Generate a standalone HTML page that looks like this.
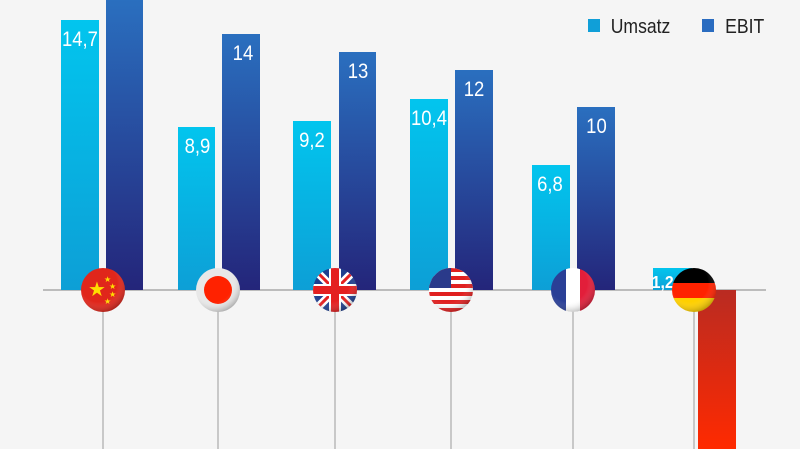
<!DOCTYPE html>
<html><head><meta charset="utf-8"><style>
html,body{margin:0;padding:0;background:#f5f5f5;}
svg{display:block}
text{font-family:"Liberation Sans",sans-serif;}
</style></head><body>
<svg width="800" height="449" viewBox="0 0 800 449" xmlns="http://www.w3.org/2000/svg">
<defs>
<linearGradient id="lb" x1="0" y1="0" x2="0" y2="1"><stop offset="0" stop-color="#02c5ee"/><stop offset="1" stop-color="#0d9fd6"/></linearGradient>
<linearGradient id="db" x1="0" y1="0" x2="0" y2="1"><stop offset="0" stop-color="#2a6fbf"/><stop offset="1" stop-color="#24257a"/></linearGradient>
<linearGradient id="rd" x1="0" y1="0" x2="0" y2="1"><stop offset="0" stop-color="#b92b22"/><stop offset="1" stop-color="#ff2a00"/></linearGradient>
<radialGradient id="sh" cx="0.4" cy="0.35" r="0.7"><stop offset="0.6" stop-color="#fff" stop-opacity="0"/><stop offset="1" stop-color="#000" stop-opacity="0.3"/></radialGradient>
<clipPath id="c1"><circle cx="0" cy="0" r="22"/></clipPath>
</defs>
<rect width="800" height="449" fill="#f5f5f5"/>
<line x1="43" y1="290" x2="766" y2="290" stroke="#aaa" stroke-width="1.5"/>
<g stroke="#c8c8c8" stroke-width="2">
<line x1="103" y1="300" x2="103" y2="449"/><line x1="218" y1="300" x2="218" y2="449"/>
<line x1="335" y1="300" x2="335" y2="449"/><line x1="451" y1="300" x2="451" y2="449"/>
<line x1="573" y1="300" x2="573" y2="449"/><line x1="694" y1="300" x2="694" y2="449"/>
</g>
<g fill="url(#lb)">
<rect x="61" y="20" width="38" height="270"/><rect x="178" y="127" width="37" height="163"/>
<rect x="293" y="121" width="38" height="169"/><rect x="410" y="99" width="38" height="191"/>
<rect x="532" y="165" width="38" height="125"/><rect x="653" y="268" width="39" height="22"/>
</g>
<g fill="url(#db)">
<rect x="106" y="0" width="37" height="290"/><rect x="222" y="34" width="38" height="256"/>
<rect x="339" y="52" width="37" height="238"/><rect x="455" y="70" width="38" height="220"/>
<rect x="577" y="107" width="38" height="183"/>
</g>
<rect x="698" y="290" width="38" height="159" fill="url(#rd)"/>
<g fill="#fff" font-size="21" text-anchor="middle" transform="scale(0.88,1)">
<text x="90.9" y="46">14,7</text><text x="224.4" y="153">8,9</text><text x="354.5" y="147">9,2</text><text x="487.5" y="125">10,4</text><text x="625" y="191">6,8</text>
<text x="276.1" y="60">14</text><text x="406.8" y="78">13</text><text x="538.6" y="96">12</text><text x="677.8" y="133">10</text>
<text x="753" y="288" font-weight="bold" font-size="18">1,2</text>
</g>
<g transform="translate(103,290)"><circle r="22" fill="#e0261b"/><text x="-15" y="6" font-size="20" fill="#ffde00">★</text>
<text x="1" y="-8" font-size="8" fill="#ffde00">★</text><text x="6" y="-1" font-size="8" fill="#ffde00">★</text><text x="6" y="7" font-size="8" fill="#ffde00">★</text><text x="1" y="14" font-size="8" fill="#ffde00">★</text><circle r="22" fill="url(#sh)"/></g>
<g transform="translate(218,290)"><circle r="22" fill="#e8e8e8"/><circle r="14" fill="#ff2200"/><circle r="22" fill="url(#sh)"/></g>
<g transform="translate(335,290)" clip-path="url(#c1)"><rect x="-22" y="-22" width="44" height="44" fill="#1f3f8f"/>
<path d="M-22,-22L22,22M22,-22L-22,22" stroke="#fff" stroke-width="8"/><path d="M-22,-22L22,22M22,-22L-22,22" stroke="#e42020" stroke-width="3"/>
<rect x="-22" y="-6" width="44" height="12" fill="#fff"/><rect x="-6" y="-22" width="12" height="44" fill="#fff"/>
<rect x="-22" y="-4" width="44" height="8" fill="#e42020"/><rect x="-4" y="-22" width="8" height="44" fill="#e42020"/><circle r="22" fill="url(#sh)"/></g>
<g transform="translate(451,290)" clip-path="url(#c1)"><rect x="-22" y="-22" width="44" height="44" fill="#fff"/>
<g fill="#e02020"><rect x="-22" y="-22" width="44" height="4"/><rect x="-22" y="-14" width="44" height="4"/><rect x="-22" y="-6" width="44" height="4"/><rect x="-22" y="2" width="44" height="4"/><rect x="-22" y="10" width="44" height="4"/><rect x="-22" y="18" width="44" height="4"/></g>
<rect x="-22" y="-22" width="22" height="20" fill="#2a3a8a"/><circle r="22" fill="url(#sh)"/></g>
<g transform="translate(573,290)" clip-path="url(#c1)"><rect x="-22" y="-22" width="15" height="44" fill="#2a3f96"/><rect x="-7" y="-22" width="14" height="44" fill="#fff"/><rect x="7" y="-22" width="15" height="44" fill="#e21e3a"/><circle r="22" fill="url(#sh)"/></g>
<g transform="translate(694,290)" clip-path="url(#c1)"><rect x="-22" y="-22" width="44" height="15" fill="#000"/><rect x="-22" y="-7" width="44" height="15" fill="#ff2200"/><rect x="-22" y="8" width="44" height="14" fill="#ffd000"/><circle r="22" fill="url(#sh)"/></g>
<rect x="588" y="19" width="12" height="13" fill="#109fd8"/>
<rect x="702" y="19" width="12" height="13" fill="#2a6cc0"/>
<g font-size="20" fill="#222" transform="scale(0.88,1)"><text x="694" y="33">Umsatz</text><text x="824" y="33">EBIT</text></g>
</svg>
</body></html>
